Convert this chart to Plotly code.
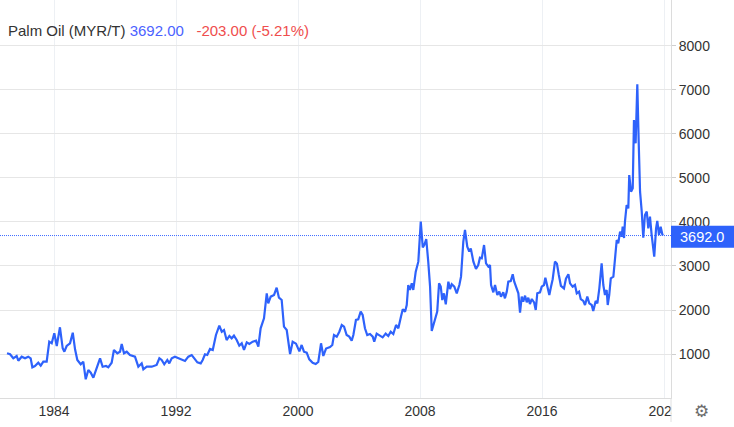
import plotly.graph_objects as go

# ---- data ----
years = [
    1980.92, 1981.12, 1981.33, 1981.55, 1981.66, 1981.88, 1982.10, 1982.31, 1982.47, 1982.58,
    1982.75, 1982.97, 1983.13, 1983.30, 1983.52, 1983.69, 1983.85, 1984.02, 1984.18, 1984.39,
    1984.57, 1984.68, 1984.83, 1985.05, 1985.23, 1985.38, 1985.53, 1985.75, 1985.92, 1986.08,
    1986.25, 1986.41, 1986.58, 1986.80, 1987.02, 1987.19, 1987.41, 1987.56, 1987.78, 1987.93,
    1988.15, 1988.33, 1988.44, 1988.59, 1988.77, 1988.98, 1989.31, 1989.53, 1989.75, 1989.86,
    1990.08, 1990.41, 1990.73, 1990.91, 1991.06, 1991.23, 1991.43, 1991.56, 1991.72, 1991.93,
    1992.15, 1992.37, 1992.59, 1992.81, 1993.03, 1993.20, 1993.40, 1993.62, 1993.75, 1993.90,
    1994.05, 1994.23, 1994.41, 1994.62, 1994.84, 1995.00, 1995.15, 1995.32, 1995.50, 1995.65,
    1995.80, 1995.98, 1996.15, 1996.31, 1996.46, 1996.64, 1996.81, 1997.03, 1997.25, 1997.40,
    1997.55, 1997.77, 1997.95, 1998.05, 1998.21, 1998.43, 1998.60, 1998.75, 1998.93, 1999.08,
    1999.26, 1999.48, 1999.65, 1999.87, 2000.09, 2000.24, 2000.39, 2000.57, 2000.74, 2000.96,
    2001.16, 2001.33, 2001.51, 2001.66, 2001.84, 2002.10, 2002.25, 2002.36, 2002.54, 2002.71,
    2002.87, 2003.02, 2003.19, 2003.36, 2003.52, 2003.63, 2003.80, 2003.95, 2004.11, 2004.24,
    2004.39, 2004.54, 2004.72, 2004.90, 2005.00, 2005.16, 2005.38, 2005.55, 2005.75, 2005.92,
    2006.08, 2006.25, 2006.43, 2006.58, 2006.75, 2006.87, 2007.02, 2007.13, 2007.23, 2007.34,
    2007.46, 2007.56, 2007.72, 2007.89, 2008.05, 2008.18, 2008.28, 2008.41, 2008.54, 2008.66,
    2008.77, 2008.98, 2009.13, 2009.25, 2009.36, 2009.46, 2009.57, 2009.69, 2009.86, 2009.97,
    2010.08, 2010.25, 2010.41, 2010.58, 2010.69, 2010.84, 2010.95, 2011.10, 2011.23, 2011.33,
    2011.50, 2011.67, 2011.82, 2011.93, 2012.05, 2012.20, 2012.33, 2012.48, 2012.59, 2012.66,
    2012.81, 2012.92, 2013.07, 2013.20, 2013.31, 2013.46, 2013.57, 2013.69, 2013.79, 2013.95,
    2014.08, 2014.18, 2014.34, 2014.45, 2014.56, 2014.67, 2014.77, 2014.89, 2015.00, 2015.10,
    2015.21, 2015.33, 2015.48, 2015.59, 2015.69, 2015.87, 2015.98, 2016.13, 2016.22, 2016.35,
    2016.48, 2016.59, 2016.70, 2016.85, 2016.98, 2017.10, 2017.24, 2017.44, 2017.57, 2017.73,
    2017.84, 2018.01, 2018.16, 2018.28, 2018.43, 2018.54, 2018.71, 2018.82, 2018.97, 2019.10,
    2019.26, 2019.36, 2019.52, 2019.63, 2019.76, 2019.91, 2020.02, 2020.13, 2020.24, 2020.31,
    2020.41, 2020.51, 2020.68, 2020.79, 2020.90, 2021.00, 2021.12, 2021.23, 2021.29, 2021.38,
    2021.44, 2021.55, 2021.66, 2021.72, 2021.84, 2021.95, 2022.03, 2022.14, 2022.25, 2022.34,
    2022.43, 2022.54, 2022.64, 2022.75, 2022.87, 2022.97, 2023.08, 2023.19, 2023.30, 2023.36,
    2023.48, 2023.56, 2023.67, 2023.78, 2023.89, 2023.93,
]
prices = [
    1016, 993, 902, 955, 848, 939, 902, 939, 902, 698,
    727, 802, 734, 825, 825, 1280, 1243, 1470, 1182, 1607,
    1130, 1052, 1182, 1243, 1484, 1107, 864, 766, 825, 425,
    636, 575, 461, 675, 902, 711, 727, 698, 802, 1091,
    1016, 1052, 1227, 1016, 1052, 977, 939, 711, 788, 652,
    711, 711, 750, 902, 864, 766, 864, 788, 902, 939,
    902, 864, 841, 939, 977, 902, 811, 788, 864, 993,
    977, 1114, 1091, 1432, 1644, 1507, 1545, 1318, 1409, 1356,
    1416, 1318, 1189, 1243, 1091, 1265, 1227, 1280, 1303, 1166,
    1584, 1811, 2379, 2152, 2303, 2341, 2508, 2280, 2227, 1621,
    1545, 1000, 1280, 1235, 1060, 1205, 1052, 1030, 879, 802,
    773, 818, 1243, 955, 1125, 1159, 1205, 1432, 1394, 1507,
    1659, 1621, 1432, 1394, 1303, 1432, 1773, 1787, 1962, 1886,
    1584, 1432, 1454, 1394, 1280, 1462, 1409, 1378, 1462, 1409,
    1507, 1454, 1659, 1584, 1848, 2015, 1962, 2114, 2568, 2455,
    2606, 2455, 2871, 3098, 4008, 3424, 3477, 3614, 3098, 2530,
    1523, 1750, 1962, 2606, 2530, 2227, 2379, 2129, 2644, 2477,
    2584, 2530, 2379, 2568, 2757, 3553, 3818, 3439, 3326, 3401,
    3098, 2932, 3023, 3189, 3174, 3477, 3061, 2985, 3023, 2568,
    2401, 2568, 2341, 2417, 2303, 2401, 2265, 2417, 2644, 2659,
    2811, 2644, 2455, 2379, 1939, 2303, 2189, 2326, 2174, 2280,
    2136, 2250, 2174, 2000, 2379, 2401, 2530, 2568, 2735, 2568,
    2341, 2530, 2700, 3100, 3050, 2800, 2550, 2492, 2712, 2811,
    2606, 2530, 2568, 2379, 2417, 2250, 2205, 2114, 2303, 2152,
    2114, 1977, 2205, 2152, 2492, 3061, 2568, 2341, 2455, 2114,
    2341, 2720, 2757, 3174, 3591, 3515, 3780, 3666, 3894, 3636,
    4008, 4386, 4310, 5068, 4689, 4765, 6318, 5788, 7129, 5826,
    4689, 4235, 3644, 4159, 4235, 3856, 4121, 3705, 3402, 3212,
    3856, 4023, 3705, 3894, 3720, 3692,
]
last_price = 3692.00
price_change = -203.00
x_ticks = [1984, 1992, 2000, 2008, 2016, 2024]
x_tick_labels = ["1984", "1992", "2000", "2008", "2016", "2024"]
y_ticks = [1000, 2000, 3000, 4000, 5000, 6000, 7000, 8000]
y_tick_labels = ["1000", "2000", "3000", "4000", "5000", "6000", "7000", "8000"]

# ---- styling ----
BLUE = "#2e62fb"
W, H = 734, 427
ML, MR, MT, MB = 0, 63, 0, 29
PW, PH = W - ML - MR, H - MT - MB
FONT = "Liberation Sans, Arial, sans-serif"
Y_MAX = 9045

pct = price_change / (last_price - price_change) * 100

fig = go.Figure()
fig.add_trace(go.Scatter(
    x=years, y=prices, mode="lines",
    line=dict(color=BLUE, width=2.2),
    hoverinfo="skip",
))

shapes = [
    # last-price dotted guide
    dict(type="line", xref="paper", yref="y", x0=0, x1=1, y0=last_price, y1=last_price,
         line=dict(color="#3f6cff", width=1, dash="1px,1px"), layer="above"),
    # cover for clipped last x tick label
    dict(type="rect", xref="paper", yref="paper", x0=1 + 1 / PW, x1=W / PW,
         y0=-2 / PH, y1=-(MB + 2) / PH, fillcolor="white", line=dict(width=0), layer="above"),
    # continuation of right border line
    dict(type="line", xref="paper", yref="paper", x0=1, x1=1, y0=0, y1=-24 / PH,
         line=dict(color="#e0e0e0", width=1), layer="above"),
    # price box
    dict(type="rect", xref="paper", yref="y", x0=1, x1=W / PW,
         y0=last_price - 250 - 30, y1=last_price + 250 - 30,
         fillcolor=BLUE, line=dict(width=0), layer="above"),
]

annotations = [
    dict(xref="paper", yref="paper", x=6 / PW, y=1 - 31 / PH, xanchor="left", yanchor="middle",
         showarrow=False, font=dict(family=FONT, size=15, color="#333333"),
         text=(f"Palm Oil (MYR/T) <span style='color:#4b62ff'>{last_price:.2f}</span>"
               f"&nbsp;&nbsp;&nbsp;<span style='color:#ef4d4d'>{price_change:.2f} ({pct:.2f}%)</span>")),
    dict(xref="paper", yref="y", x=1 + 7 / PW, y=last_price - 30, xanchor="left", yanchor="middle",
         showarrow=False, font=dict(family=FONT, size=14.5, color="white"),
         text=f"{prices[-1]:.1f}"),
    dict(xref="paper", yref="paper", x=701 / PW, y=-(411 - PH) / PH, xanchor="center", yanchor="middle",
         showarrow=False, font=dict(family="DejaVu Sans", size=17, color="#6b6b6b"), text="⚙"),
]

fig.update_layout(
    width=W, height=H,
    margin=dict(l=ML, r=MR, t=MT, b=MB, pad=0),
    paper_bgcolor="white", plot_bgcolor="white",
    showlegend=False,
    font=dict(family=FONT, size=14, color="#333333"),
    shapes=shapes, annotations=annotations,
    xaxis=dict(
        range=[1980.459, 2024.459], tickmode="array", tickvals=x_ticks, ticktext=x_tick_labels,
        showgrid=True, gridcolor="#edf0f4", gridwidth=1, zeroline=False,
        showline=True, linecolor="#dcdcdc", linewidth=1, ticks="",
        tickfont=dict(family=FONT, size=14, color="#333333"),
    ),
    yaxis=dict(
        side="right", range=[0, Y_MAX], tickmode="array", tickvals=y_ticks, ticktext=y_tick_labels,
        showgrid=True, gridcolor="#e6e6e6", gridwidth=1, zeroline=False,
        showline=True, linecolor="#dcdcdc", linewidth=1,
        ticks="outside", ticklen=4, tickcolor="#cfcfcf",
        tickfont=dict(family=FONT, size=14, color="#333333"),
    ),
)

fig.write_html(
    "out.html",
    config={"displayModeBar": False},
    post_script="document.body.style.margin='0';document.body.style.overflow='hidden';",
)
